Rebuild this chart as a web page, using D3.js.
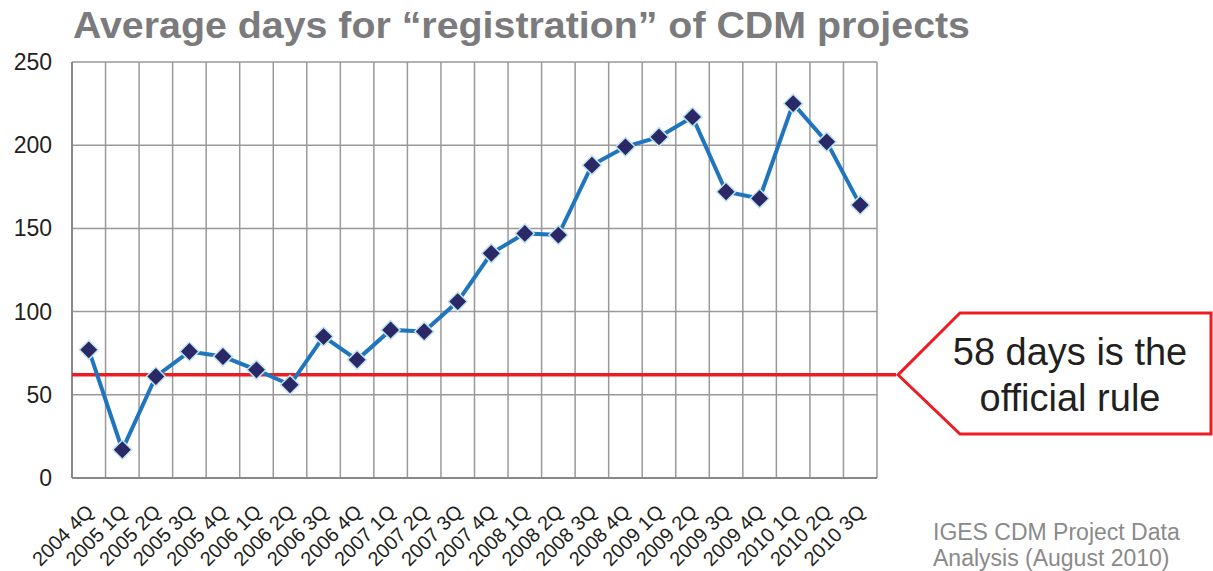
<!DOCTYPE html>
<html>
<head>
<meta charset="utf-8">
<script src="https://cdn.jsdelivr.net/npm/d3@7"></script>
<style>
  body { margin: 0; background: #fff; }
  svg { font-family: "Liberation Sans", Arial, sans-serif; }
</style>
</head>
<body>
<script>
// quarters on the x axis
var quarters = ["2004 4Q","2005 1Q","2005 2Q","2005 3Q","2005 4Q","2006 1Q","2006 2Q","2006 3Q",
  "2006 4Q","2007 1Q","2007 2Q","2007 3Q","2007 4Q","2008 1Q","2008 2Q","2008 3Q",
  "2008 4Q","2009 1Q","2009 2Q","2009 3Q","2009 4Q","2010 1Q","2010 2Q","2010 3Q"];
// average days for registration
var avgDays = [77,17,61,76,73,65,56,85,71,89,88,106,135,147,146,188,199,205,217,172,168,225,202,164];
var yTicks = [0,50,100,150,200,250];
var ruleLine = 62;

var w = 1213, h = 571;
var margin = {left: 72, right: 336, top: 62, bottom: 93};

var svg = d3.select("body").append("svg")
    .attr("width", w)
    .attr("height", h);

var x = d3.scaleBand()
    .domain(quarters)
    .range([margin.left, w - margin.right]);

var y = d3.scaleLinear()
    .domain([0, 250])
    .range([h - margin.bottom, margin.top]);

// title
svg.append("text")
    .attr("x", 73).attr("y", 38)
    .attr("textLength", 897)
    .attr("lengthAdjust", "spacingAndGlyphs")
    .style("font-size", "36px")
    .style("font-weight", "bold")
    .style("fill", "#7b7b7d")
    .text("Average days for \u201cregistration\u201d of CDM projects");

// grid
var grid = svg.append("g");
grid.selectAll("line.h")
    .data(yTicks)
    .enter().append("line")
    .attr("x1", x.range()[0]).attr("x2", x.range()[1])
    .attr("y1", d => y(d)).attr("y2", d => y(d))
    .style("stroke", "#999").style("stroke-width", 1.5);
grid.selectAll("line.v")
    .data(quarters)
    .enter().append("line")
    .attr("x1", (d, i) => x(d) + x.step())
    .attr("x2", (d, i) => x(d) + x.step())
    .attr("y1", y(0)).attr("y2", y(250))
    .style("stroke", "#999").style("stroke-width", 1.5);

// axes
svg.append("line")
    .attr("x1", x.range()[0]).attr("x2", x.range()[0])
    .attr("y1", y(0)).attr("y2", y(250))
    .style("stroke", "#888").style("stroke-width", 2);
svg.append("line")
    .attr("x1", x.range()[0]).attr("x2", x.range()[1])
    .attr("y1", y(0)).attr("y2", y(0))
    .style("stroke", "#888").style("stroke-width", 2);

svg.selectAll("text.ytick")
    .data(yTicks)
    .enter().append("text")
    .attr("class", "ytick")
    .attr("x", 52).attr("y", d => y(d) + 8)
    .attr("text-anchor", "end")
    .style("font-size", "23px")
    .style("fill", "#231f20")
    .text(d => d);

svg.selectAll("text.xtick")
    .data(quarters)
    .enter().append("text")
    .attr("class", "xtick")
    .attr("transform", d => "translate(" + (x(d) + x.bandwidth() / 2 + 6) + "," + (y(0) + 35) + ") rotate(-45)")
    .attr("text-anchor", "end")
    .style("font-size", "20px")
    .style("fill", "#231f20")
    .text(d => d);

// official rule line
svg.append("line")
    .attr("x1", x.range()[0]).attr("x2", 896)
    .attr("y1", y(ruleLine)).attr("y2", y(ruleLine))
    .style("stroke", "#ed1c24").style("stroke-width", 3.5);

// series line
var line = d3.line()
    .x((d, i) => x(quarters[i]) + x.bandwidth() / 2)
    .y(d => y(d));

svg.append("path")
    .datum(avgDays)
    .attr("d", line)
    .style("fill", "none")
    .style("stroke", "#1f75be")
    .style("stroke-width", 4);

svg.selectAll("path.marker")
    .data(avgDays)
    .enter().append("path")
    .attr("class", "marker")
    .attr("d", d3.symbol().type(d3.symbolSquare).size(180))
    .attr("transform", (d, i) => "translate(" + (x(quarters[i]) + x.bandwidth() / 2) + "," + y(d) + ") rotate(45)")
    .style("fill", "#2a2866")
    .style("stroke", "#bfe4ee")
    .style("stroke-width", 1.5);

// callout
var ty = y(ruleLine);
svg.append("path")
    .attr("d", "M898," + ty + " L960,313 L1211,313 L1211,434 L960,434 Z")
    .style("fill", "#fff")
    .style("stroke", "#ed1c24")
    .style("stroke-width", 3);
svg.append("text")
    .attr("x", 1070).attr("y", 365)
    .attr("text-anchor", "middle")
    .style("font-size", "38px")
    .style("fill", "#231f20")
    .text("58 days is the");
svg.append("text")
    .attr("x", 1070).attr("y", 411)
    .attr("text-anchor", "middle")
    .style("font-size", "38px")
    .style("fill", "#231f20")
    .text("official rule");

// source
svg.append("text")
    .attr("x", 933).attr("y", 540)
    .style("font-size", "23px")
    .style("fill", "#8a8a8a")
    .text("IGES CDM Project Data");
svg.append("text")
    .attr("x", 933).attr("y", 566)
    .style("font-size", "23px")
    .style("fill", "#8a8a8a")
    .text("Analysis (August 2010)");
</script>
</body>
</html>
